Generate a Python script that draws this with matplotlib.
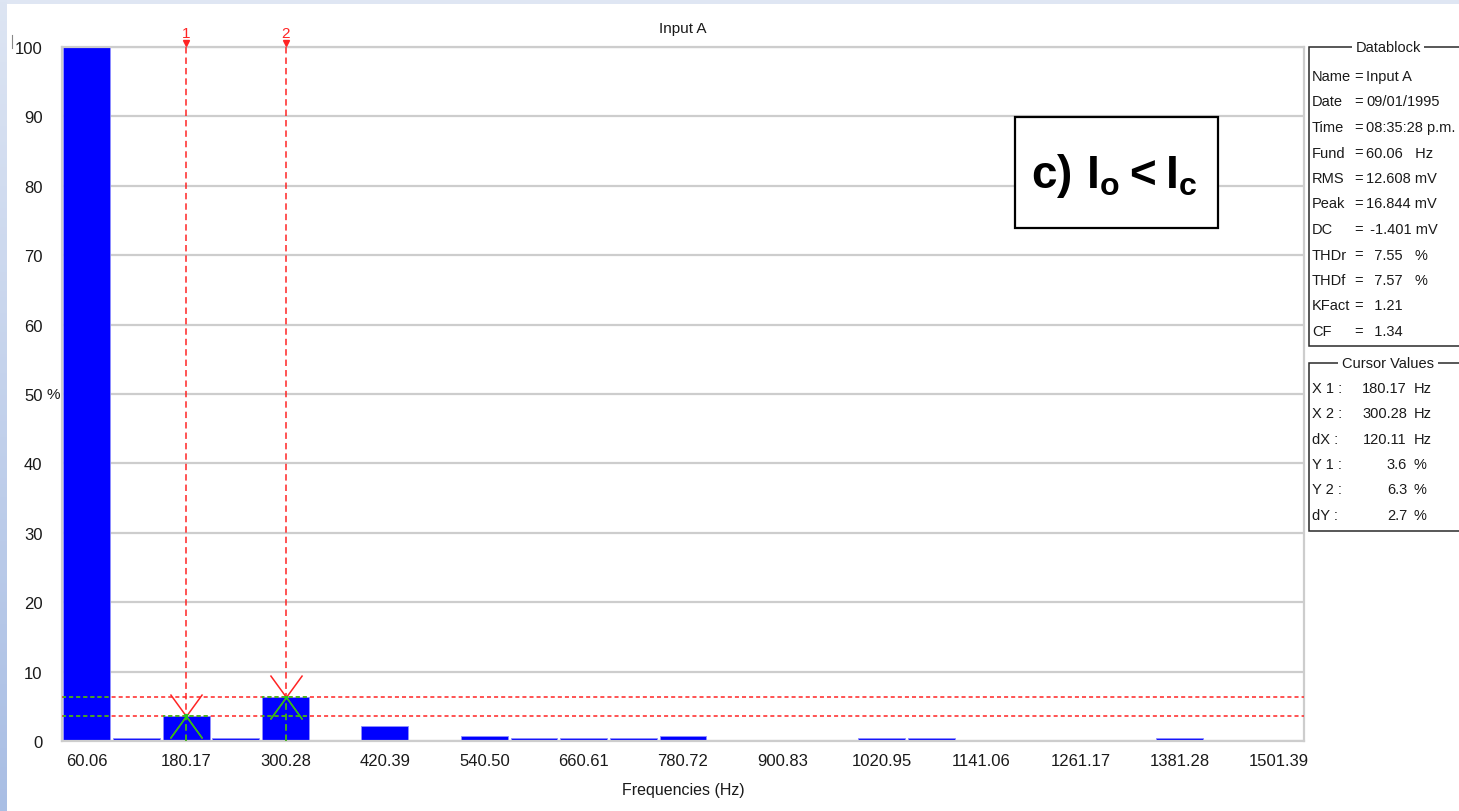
import numpy as np
import matplotlib
matplotlib.use("Agg")
import matplotlib.pyplot as plt
from matplotlib.patches import Rectangle
from matplotlib.lines import Line2D
from matplotlib.path import Path
from matplotlib.markers import MarkerStyle

# ---- spectrum data: harmonic frequency (Hz) and magnitude (% of fundamental)
harmonic_hz = [60.06, 120.11, 180.17, 240.22, 300.28, 360.33, 420.39, 480.44,
               540.50, 600.56, 660.61, 720.67, 780.72, 840.78, 900.83, 960.89,
               1020.95, 1081.00, 1141.06, 1201.11, 1261.17, 1321.22, 1381.28,
               1441.33, 1501.39]
magnitude_pct = [100.0, 0.4, 3.6, 0.4, 6.3, 0.0, 2.1, 0.0,
                 0.7, 0.4, 0.4, 0.4, 0.7, 0.0, 0.0, 0.0,
                 0.4, 0.4, 0.0, 0.0, 0.0, 0.0, 0.4,
                 0.0, 0.0]
tick_hz = [60.06, 180.17, 300.28, 420.39, 540.50, 660.61, 780.72, 900.83,
           1020.95, 1141.06, 1261.17, 1381.28, 1501.39]
y_ticks = [0, 10, 20, 30, 40, 50, 60, 70, 80, 90, 100]

# cursor positions (Hz)
cursor_labels = ["1", "2"]
cursor_hz = [180.17, 300.28]

datablock_title = "Datablock"
datablock_rows = [
    ("Name", "Input A"),
    ("Date", "09/01/1995"),
    ("Time", "08:35:28 p.m."),
    ("Fund", "60.06   Hz"),
    ("RMS", "12.608 mV"),
    ("Peak", "16.844 mV"),
    ("DC", " -1.401 mV"),
    ("THDr", "  7.55   %"),
    ("THDf", "  7.57   %"),
    ("KFact", "  1.21"),
    ("CF", "  1.34"),
]
cursor_title = "Cursor Values"
case_label = r"$\mathbf{c)\ I_o < I_c}$"

# ---- style
plt.rcParams["font.family"] = ["Liberation Sans", "DejaVu Sans"]
plt.rcParams["lines.scale_dashes"] = False
plt.rcParams["mathtext.fontset"] = "custom"
plt.rcParams["mathtext.bf"] = "Liberation Sans:bold"
plt.rcParams["mathtext.rm"] = "Liberation Sans:bold"

RED = "#ff2424"
GREEN = "#18d018"
BLUE = "#0000ff"
GRID = "#cdcdcd"
INK = "#1a1a1a"
PANEL_FS = 10.5

W, H = 1459, 812
fig = plt.figure(figsize=(W / 100, H / 100), dpi=100, facecolor="#dfe6f3")


def fx(px):
    return px / W


def fy(py):
    return 1 - py / H


# window background: pale frame with a bluish gradient strip at the left
strip = fig.add_axes([0, 0, fx(7), 1], zorder=-5)
top_c = np.array([0xdd, 0xe5, 0xf3]) / 255
bot_c = np.array([0xa9, 0xbe, 0xe4]) / 255
t = np.linspace(0, 1, 256)[:, None]
grad = (top_c * (1 - t) + bot_c * t)[:, None, :]
strip.imshow(grad, aspect="auto", extent=[0, 1, 0, 1])
strip.axis("off")
fig.patches.append(Rectangle((fx(7), 0), 1 - fx(7), fy(5), transform=fig.transFigure,
                             facecolor="white", edgecolor="none", zorder=-4))

# ---- main spectrum axes
ax = fig.add_axes([fx(62), fy(742), fx(1304) - fx(62), fy(48) - fy(742)])
ax.set_facecolor("white")
fund = harmonic_hz[0]
ax.set_xlim(fund * 0.5, harmonic_hz[-1] + fund * 0.5)
ax.set_ylim(0, 100)

bar_w = fund * 0.944
bars = ax.bar(harmonic_hz, magnitude_pct, width=bar_w, color=BLUE,
              edgecolor="#8f8fff",
              linewidth=[0.6 if v > 0 else 0 for v in magnitude_pct], zorder=2)

ax.set_yticks(y_ticks)
ax.set_yticklabels([str(v) for v in y_ticks])
ax.set_xticks(tick_hz)
ax.set_xticklabels([f"{v:.2f}" for v in tick_hz])
ax.yaxis.grid(True, color=GRID, linewidth=1.6)
ax.set_axisbelow(True)
ax.tick_params(axis="both", length=0, labelsize=12, labelcolor=INK)
ax.tick_params(axis="y", pad=14)
ax.tick_params(axis="x", pad=9)
for s in ax.spines.values():
    s.set_color(GRID)
    s.set_linewidth(1.6)

ax.annotate("%", xy=(0, 50), xycoords=("axes fraction", "data"),
            xytext=(-11, 0), textcoords="offset points",
            ha="left", va="center", fontsize=11, color=INK)

ax.set_title("Input A", fontsize=11, pad=11, color=INK)
ax.set_xlabel("Frequencies (Hz)", fontsize=11.5, labelpad=10, color=INK)

# ---- cursors: red over the background, green where they cross a bar
clip_boxes = []
for rect in bars.patches:
    if rect.get_height() > 0:
        clip_boxes.append(Rectangle((rect.get_x(), rect.get_y()), rect.get_width(),
                                    rect.get_height() + 0.25, transform=ax.transData))

level = dict(zip(harmonic_hz, magnitude_pct))
cursor_y = [level[x] for x in cursor_hz]

h_dash = (0, (2.9, 2.2))
v_dash = (0, (4.6, 2.9))
lw = 1.1

x_marker = MarkerStyle(Path([(-16, -22), (16, 22), (-16, 22), (16, -22)],
                            [Path.MOVETO, Path.LINETO, Path.MOVETO, Path.LINETO]))


def draw_cursor_set(color, clip=None):
    arts = []
    for x, y in zip(cursor_hz, cursor_y):
        arts += ax.plot([x, x], [0, 1.006], transform=ax.get_xaxis_transform(),
                        color=color, lw=lw, ls=v_dash, clip_on=False, zorder=4)
        arts.append(ax.axhline(y, color=color, lw=lw, ls=h_dash, zorder=4))
        arts += ax.plot([x], [y], marker=x_marker, markersize=31.7, color=color,
                        markeredgewidth=1.1, ls="none", zorder=4)
    if clip is not None:
        for a in arts:
            a.set_clip_on(True)
            a.set_clip_path(clip)


draw_cursor_set(RED)
for cb in clip_boxes:
    draw_cursor_set(GREEN, cb)

for name, x in zip(cursor_labels, cursor_hz):
    ax.plot([x], [1.006], transform=ax.get_xaxis_transform(), marker="v",
            markersize=4.5, color=RED, clip_on=False, zorder=5)
    ax.annotate(name, xy=(x, 1.0), xycoords=("data", "axes fraction"),
                xytext=(0, 10), textcoords="offset points", ha="center",
                va="center", color=RED, fontsize=11)

# ---- case label box
fig.patches.append(Rectangle((fx(1015), fy(229)), fx(1218) - fx(1015), fy(118) - fy(229),
                             transform=fig.transFigure, facecolor="white",
                             edgecolor="black", linewidth=1.6, zorder=3))
fig.text(fx(1114), fy(176), case_label, fontsize=33, ha="center", va="center",
         color="black", zorder=4)

# ---- side information panels


def panel_frame(top, bottom, title):
    fig.patches.append(Rectangle((fx(1309), fy(bottom)), fx(1470) - fx(1309),
                                 fy(top) - fy(bottom), transform=fig.transFigure,
                                 facecolor="white", edgecolor="#2a2a2a",
                                 linewidth=1.1, zorder=3))
    fig.text(fx(1388), fy(top), title, fontsize=PANEL_FS, ha="center", va="center",
             color=INK, zorder=5,
             bbox=dict(boxstyle="square,pad=0.25", facecolor="white", edgecolor="none"))


def put(x, y, s, ha="left"):
    fig.text(fx(x), fy(y), s, fontsize=PANEL_FS, ha=ha, va="center",
             color=INK, zorder=5)


panel_frame(48, 347, datablock_title)
for i, (lab, val) in enumerate(datablock_rows):
    y = 77 + 25.5 * i
    put(1312, y, lab)
    put(1354, y, "=")
    put(1366, y, val)

x1, x2 = cursor_hz
y1, y2 = cursor_y
cursor_rows = [
    ("X 1 :", f"{x1:.2f}", "Hz"),
    ("X 2 :", f"{x2:.2f}", "Hz"),
    ("dX :", f"{x2 - x1:.2f}", "Hz"),
    ("Y 1 :", f"{y1:.1f}", "%"),
    ("Y 2 :", f"{y2:.1f}", "%"),
    ("dY :", f"{y2 - y1:.1f}", "%"),
]
panel_frame(364, 532, cursor_title)
for i, (lab, val, unit) in enumerate(cursor_rows):
    y = 389 + 25.3 * i
    put(1312, y, lab)
    put(1407, y, val, ha="right")
    put(1414, y, unit)

# small caret mark left of the top tick label
fig.add_artist(Line2D([fx(12.5), fx(12.5)], [fy(36), fy(49)], color="#888888", lw=0.8))

fig.savefig("out.png", dpi=100, facecolor=fig.get_facecolor())
